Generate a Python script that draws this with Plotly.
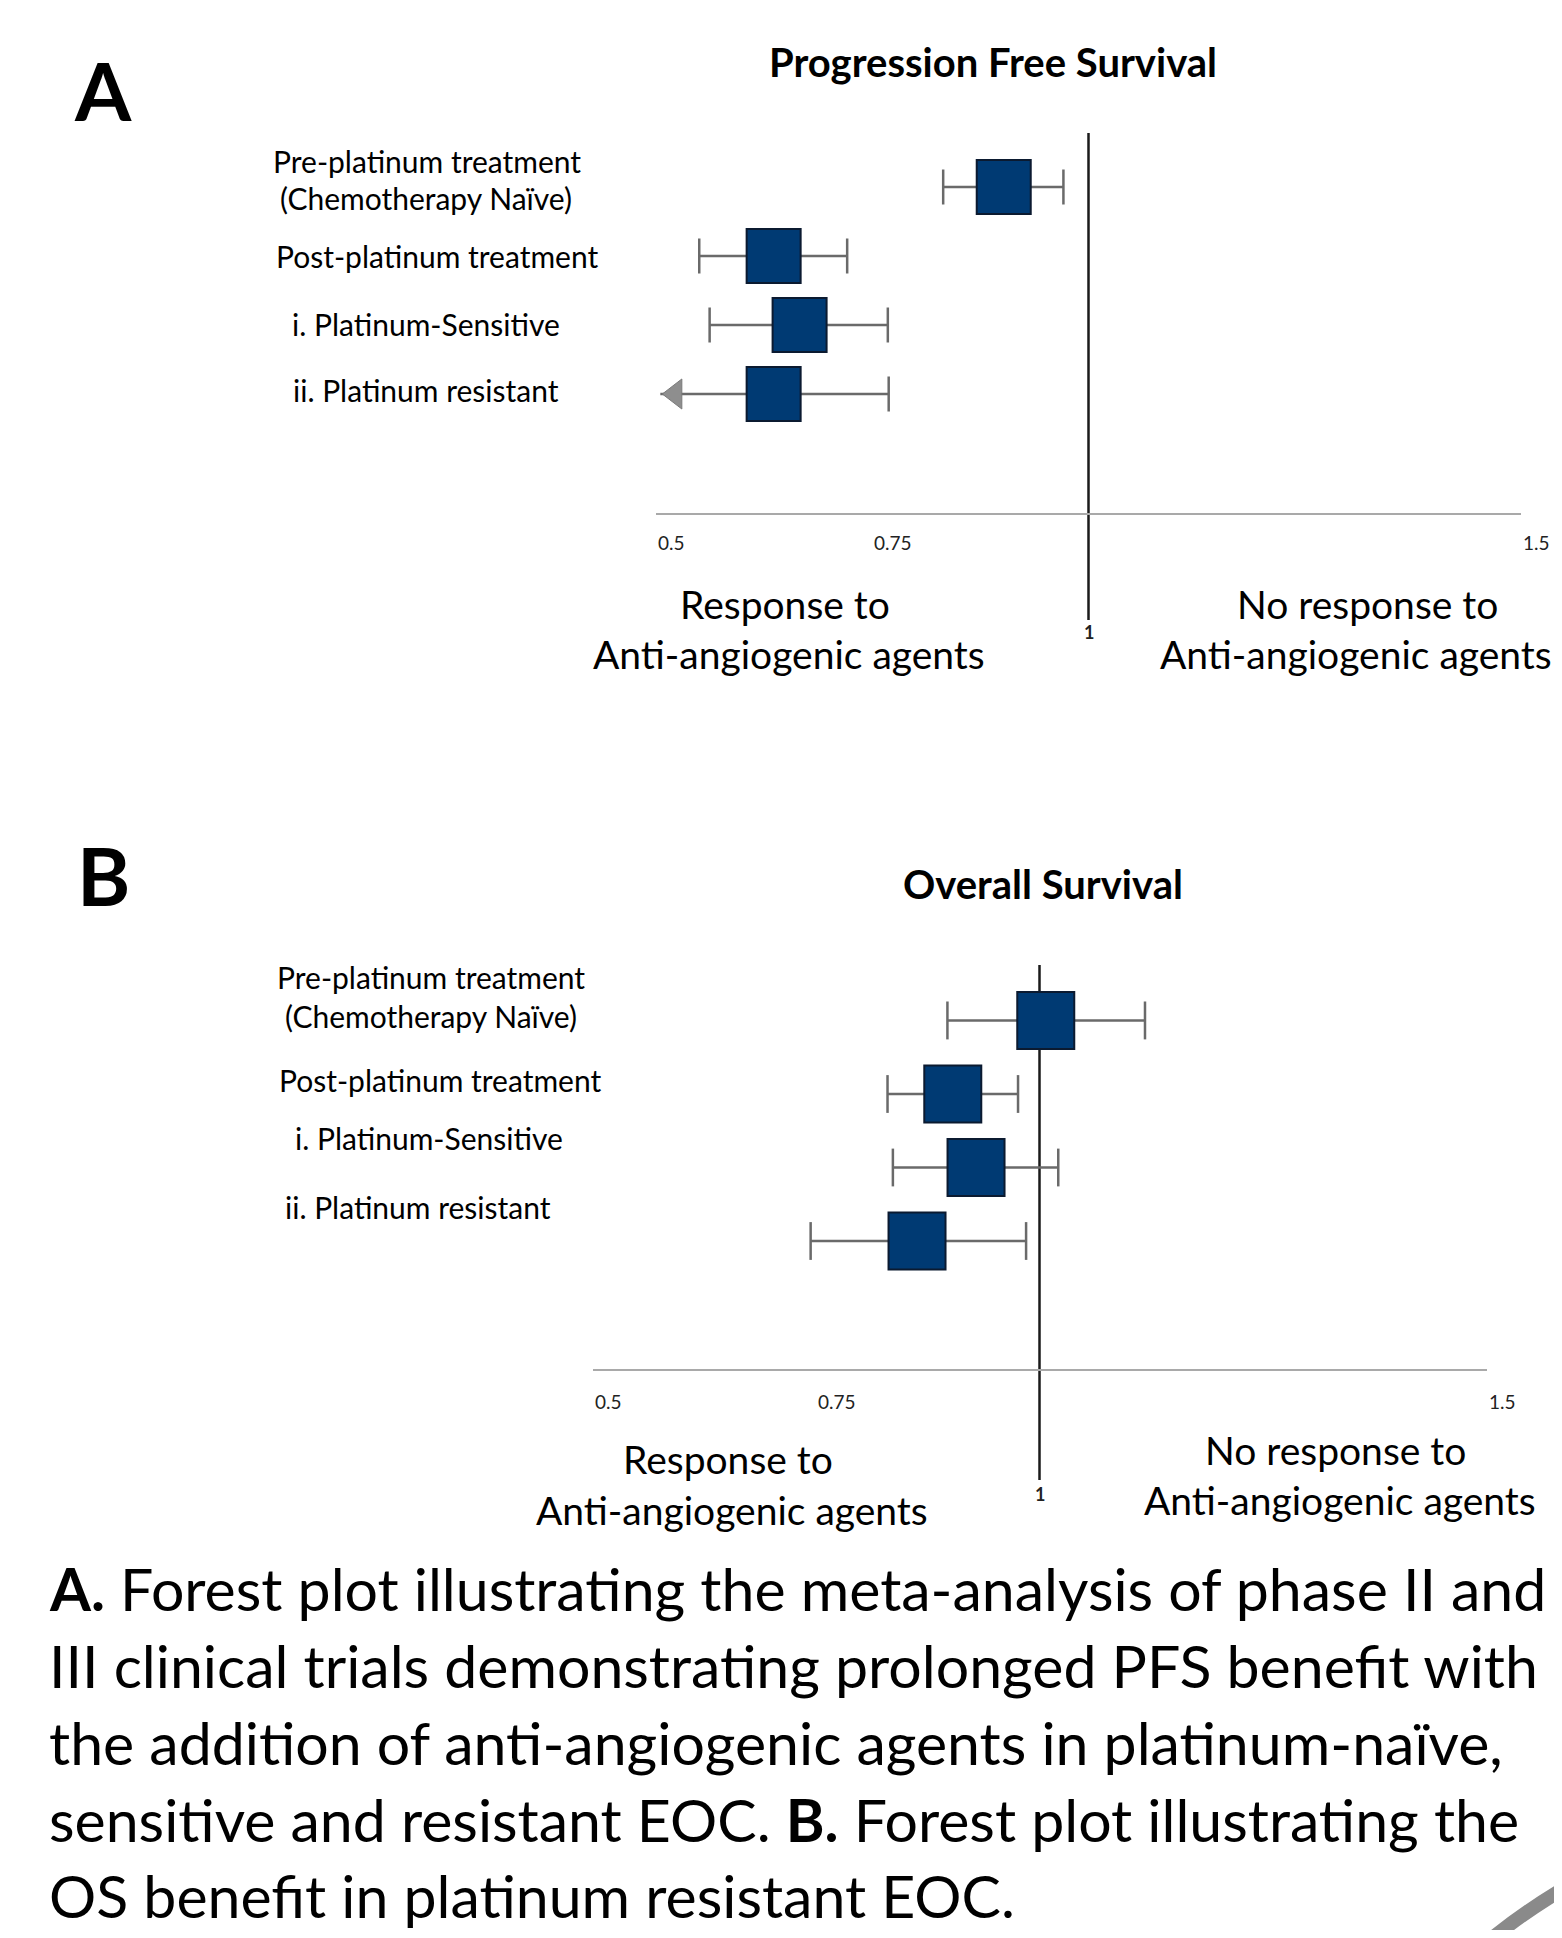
import plotly.graph_objects as go

W, H = 1562, 1938          # page size
OFF = 8                    # browser default body margin
FW, FH = W - 2 * OFF, H - 2 * OFF

# ---------------- data ----------------
row_names = ["Pre-platinum treatment (Chemotherapy Naïve)", "Post-platinum treatment",
             "i. Platinum-Sensitive", "ii. Platinum resistant"]
pfs_hr = [0.902, 0.636, 0.666, 0.636]
pfs_lo = [0.832, 0.550, 0.562, 0.505]
pfs_hi = [0.971, 0.721, 0.768, 0.769]
pfs_truncated = [False, False, False, True]

os_hr = [1.007, 0.903, 0.929, 0.863]
os_lo = [0.897, 0.830, 0.836, 0.744]
os_hi = [1.118, 0.976, 1.021, 0.985]
os_truncated = [False, False, False, False]

tick_vals = [0.5, 0.75, 1.5]
tick_text = ["0.5", "0.75", "1.5"]
ref_value = 1

caption_lines = [
    "<b>A.</b> Forest plot illustrating the meta-analysis of phase II and",
    "III clinical trials demonstrating prolonged PFS benefit with",
    "the addition of anti-angiogenic agents in platinum-naïve,",
    "sensitive and resistant EOC. <b>B.</b> Forest plot illustrating the",
    "OS benefit in platinum resistant EOC.",
]

# ---------------- styling / layout ----------------
FONT = "Lato"
NAVY = "#003a73"
NAVY_EDGE = "#0b1a30"
WHISK = "#6a6a6a"


def px(x):
    return (x - OFF) / FW


def py(y):
    return 1 - (y - OFF) / FH


panels = [
    dict(name="A", title="Progression Free Survival", hr=pfs_hr, lo=pfs_lo, hi=pfs_hi, trunc=pfs_truncated,
         xa="x", ya="y", x0=656, x1=1521, ytop=133, yaxis=513, row0=187, drow=69, vbot=620,
         box=54, cap=25,
         letter=(72, 90), title_pos=(993, 62),
         labels=[("Pre-platinum treatment", 427, 161), ("(Chemotherapy Naïve)", 426, 198),
                 ("Post-platinum treatment", 437, 256), ("i. Platinum-Sensitive", 426, 324),
                 ("ii. Platinum resistant", 426, 390)],
         tick_y=542, one_y=632,
         left_txt=[("Response to", 785, 604), ("Anti-angiogenic agents", 789, 654)],
         right_txt=[("No response to", 1367, 604, "center"), ("Anti-angiogenic agents", 1158, 654, "left")]),
    dict(name="B", title="Overall Survival", hr=os_hr, lo=os_lo, hi=os_hi, trunc=os_truncated,
         xa="x2", ya="y2", x0=592.5, x1=1486.5, ytop=965, yaxis=1369, row0=1020.5, drow=73.5, vbot=1480,
         box=57, cap=27,
         letter=(75, 875), title_pos=(1043, 884),
         labels=[("Pre-platinum treatment", 431, 977), ("(Chemotherapy Naïve)", 431, 1016),
                 ("Post-platinum treatment", 440, 1080), ("i. Platinum-Sensitive", 429, 1138),
                 ("ii. Platinum resistant", 418, 1207)],
         tick_y=1401, one_y=1494,
         left_txt=[("Response to", 728, 1459), ("Anti-angiogenic agents", 732, 1510)],
         right_txt=[("No response to", 1335, 1450, "center"), ("Anti-angiogenic agents", 1340, 1500, "center")]),
]

fig = go.Figure()
annotations = []
shapes = []
layout_axes = {}

for i, p in enumerate(panels):
    n = len(p["hr"])
    rows = list(range(n))
    ppu = (p["x1"] - p["x0"]) / (tick_vals[-1] - tick_vals[0])  # pixels per unit
    xmin = tick_vals[0]

    # whiskers
    wx, wy = [], []
    for r in rows:
        wx += [max(p["lo"][r], xmin), p["hi"][r], None]
        wy += [r, r, None]
    fig.add_trace(go.Scatter(x=wx, y=wy, mode="lines", line=dict(color=WHISK, width=2.5),
                             xaxis=p["xa"], yaxis=p["ya"], hoverinfo="skip", showlegend=False))
    # caps
    cx, cy = [], []
    for r in rows:
        if not p["trunc"][r]:
            cx.append(p["lo"][r]); cy.append(r)
        cx.append(p["hi"][r]); cy.append(r)
    fig.add_trace(go.Scatter(x=cx, y=cy, mode="markers",
                             marker=dict(symbol="line-ns", size=p["cap"],
                                         line=dict(color=WHISK, width=2.5)),
                             xaxis=p["xa"], yaxis=p["ya"], hoverinfo="skip", showlegend=False))
    # truncation arrows (tip at lower bound)
    arr_size = 26
    rt = (arr_size / 2) * 2 / 3 ** 0.5
    ax_, ay_ = [], []
    for r in rows:
        if p["trunc"][r]:
            ax_.append(max(p["lo"][r], xmin) + rt / ppu); ay_.append(r)
    if ax_:
        fig.add_trace(go.Scatter(x=ax_, y=ay_, mode="markers",
                                 marker=dict(symbol="triangle-left", size=arr_size, color="#8e8e8e",
                                             line=dict(color="#7a7a7a", width=1)),
                                 xaxis=p["xa"], yaxis=p["ya"], hoverinfo="skip", showlegend=False))
    # boxes
    fig.add_trace(go.Scatter(x=p["hr"], y=rows, mode="markers",
                             marker=dict(symbol="square", size=p["box"], color=NAVY,
                                         line=dict(color=NAVY_EDGE, width=2)),
                             text=row_names, hovertemplate="%{text}: %{x}<extra></extra>",
                             xaxis=p["xa"], yaxis=p["ya"], showlegend=False))

    # axes
    yr_top = -(p["row0"] - p["ytop"]) / p["drow"]
    yr_bot = (p["yaxis"] - p["row0"]) / p["drow"]
    sfx = "" if i == 0 else "2"
    layout_axes["xaxis" + sfx] = dict(domain=[px(p["x0"]), px(p["x1"])], range=[tick_vals[0], tick_vals[-1]],
                                      anchor=p["ya"], showgrid=False, zeroline=False, showline=True,
                                      linecolor="#a9a9a9", linewidth=2, ticks="", showticklabels=False,
                                      fixedrange=True)
    layout_axes["yaxis" + sfx] = dict(domain=[py(p["yaxis"]), py(p["ytop"])], range=[yr_bot, yr_top],
                                      anchor=p["xa"], showgrid=False, zeroline=False, showline=False,
                                      showticklabels=False, ticks="", fixedrange=True)

    # reference line at 1
    shapes.append(dict(type="line", xref=p["xa"], yref="paper", x0=ref_value, x1=ref_value,
                       y0=py(p["vbot"]), y1=py(p["ytop"]), line=dict(color="#1a1a1a", width=2.5),
                       layer="below"))

    # tick labels (left-aligned on their ticks)
    for v, t in zip(tick_vals, tick_text):
        annotations.append(dict(x=v, xref=p["xa"], y=py(p["tick_y"]), yref="paper", text=t,
                                showarrow=False, xanchor="left", yanchor="middle",
                                font=dict(family=FONT, size=19, color="#222")))
    annotations.append(dict(x=ref_value, xref=p["xa"], y=py(p["one_y"]), yref="paper", text="<b>1</b>",
                            showarrow=False, xanchor="center", yanchor="middle",
                            font=dict(family=FONT, size=18, color="#222")))

    # letter & title
    annotations.append(dict(x=px(p["letter"][0]), y=py(p["letter"][1]), xref="paper", yref="paper",
                            text="<b>" + p["name"] + "</b>", showarrow=False, xanchor="left",
                            yanchor="middle", font=dict(family=FONT, size=81, color="black")))
    annotations.append(dict(x=px(p["title_pos"][0]), y=py(p["title_pos"][1]), xref="paper", yref="paper",
                            text="<b>" + p["title"] + "</b>", showarrow=False, xanchor="center",
                            yanchor="middle", font=dict(family=FONT, size=40, color="black")))
    # row labels
    for t, x, y in p["labels"]:
        annotations.append(dict(x=px(x), y=py(y), xref="paper", yref="paper", text=t, showarrow=False,
                                xanchor="center", yanchor="middle",
                                font=dict(family=FONT, size=30, color="black")))
    # response text
    for t, x, y in p["left_txt"]:
        annotations.append(dict(x=px(x), y=py(y), xref="paper", yref="paper", text=t, showarrow=False,
                                xanchor="center", yanchor="middle",
                                font=dict(family=FONT, size=39, color="black")))
    for t, x, y, anc in p["right_txt"]:
        annotations.append(dict(x=px(x), y=py(y), xref="paper", yref="paper", text=t, showarrow=False,
                                xanchor=anc, yanchor="middle",
                                font=dict(family=FONT, size=39, color="black")))

# caption
cap_y = [1588, 1665, 1742, 1819, 1895]
for t, y in zip(caption_lines, cap_y):
    annotations.append(dict(x=px(47), y=py(y), xref="paper", yref="paper", text=t, showarrow=False,
                            xanchor="left", yanchor="middle",
                            font=dict(family=FONT, size=59, color="black")))

# decorative arc at bottom right
shapes.append(dict(type="path", xref="paper", yref="paper",
                   path=f"M {px(1478)} {py(1950)} Q {px(1522)} {py(1912)} {px(1575)} {py(1882)}",
                   line=dict(color="#8a8a8a", width=14)))

fig.update_layout(width=FW, height=FH, margin=dict(l=0, r=0, t=0, b=0),
                  paper_bgcolor="white", plot_bgcolor="white",
                  annotations=annotations, shapes=shapes, showlegend=False, **layout_axes)

fig.write_html("out.html")
